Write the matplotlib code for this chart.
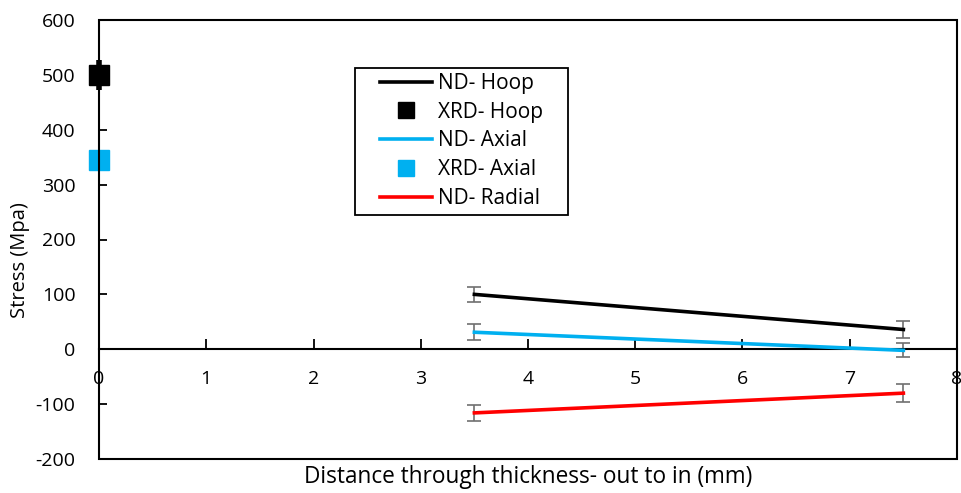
import matplotlib
matplotlib.use("Agg")
import matplotlib.pyplot as plt
from matplotlib.patches import Rectangle
from matplotlib.lines import Line2D

plt.rcParams['font.family'] = ['Open Sans', 'DejaVu Sans']
plt.rcParams['axes.unicode_minus'] = False

# Data
nd_x = [3.5, 7.5]
nd_hoop = [100, 36]
nd_hoop_err = [13, 15]
nd_axial = [31, -2]
nd_axial_err = [15, 13]
nd_radial = [-116, -80]
nd_radial_err = [14, 16]
xrd_x = [0]
xrd_hoop = [500]
xrd_hoop_err = [27]
xrd_axial = [345]

xticks = [0, 1, 2, 3, 4, 5, 6, 7, 8]
yticks = [-200, -100, 0, 100, 200, 300, 400, 500, 600]

W, H = 961, 493
fig = plt.figure(figsize=(W/100, H/100), dpi=100)
ax = fig.add_axes([99/W, 1 - 459/H, (957-99)/W, (459-20)/H])

black = '#000000'
blue = '#00B0F0'
red = '#FF0000'
grey = '#707070'

ax.plot(nd_x, nd_hoop, color=black, lw=2.6, zorder=3)
ax.errorbar(nd_x, nd_hoop, yerr=nd_hoop_err, fmt='none', ecolor=grey, elinewidth=1.2, capsize=5, capthick=1.2, zorder=2)
ax.errorbar(xrd_x, xrd_hoop, yerr=xrd_hoop_err, fmt='s', color=black, ms=14, ecolor=black, elinewidth=4, capsize=0, zorder=4, clip_on=False)
ax.plot(nd_x, nd_axial, color=blue, lw=2.6, zorder=3)
ax.errorbar(nd_x, nd_axial, yerr=nd_axial_err, fmt='none', ecolor=grey, elinewidth=1.2, capsize=5, capthick=1.2, zorder=2)
ax.plot(xrd_x, xrd_axial, 's', color=blue, ms=14, zorder=4, clip_on=False)
ax.plot(nd_x, nd_radial, color=red, lw=2.6, zorder=3)
ax.errorbar(nd_x, nd_radial, yerr=nd_radial_err, fmt='none', ecolor=grey, elinewidth=1.2, capsize=5, capthick=1.2, zorder=2)

ax.set_xlim(0, 8)
ax.set_ylim(-200, 600)
ax.set_xticks(xticks)
ax.set_yticks(yticks)

for s in ['top', 'right', 'left']:
    ax.spines[s].set_visible(False)
ax.spines['bottom'].set_position(('data', 0))
ax.spines['bottom'].set_linewidth(1.5)
ax.add_patch(Rectangle((0, 0), 1, 1, transform=ax.transAxes, fill=False,
                       edgecolor=black, lw=1.5, zorder=5, clip_on=False))

ax.tick_params(axis='x', direction='in', length=7, width=1.3, labelsize=14, pad=15)
ax.tick_params(axis='y', direction='in', length=6, width=1.3, labelsize=14, pad=17)

fig.text(20/W, 1 - 260/H, 'Stress (Mpa)', rotation=90, ha='center', va='center', fontsize=14.5)
fig.text((99+957)/2/W, 1 - 477/H, 'Distance through thickness- out to in (mm)',
         ha='center', va='center', fontsize=16.3)

labels = ['ND- Hoop', 'XRD- Hoop', 'ND- Axial', 'XRD- Axial', 'ND- Radial']
hs = [Line2D([], [], color=black, lw=2.6),
      Line2D([], [], color=black, marker='s', ls='none', ms=11),
      Line2D([], [], color=blue, lw=2.6),
      Line2D([], [], color=blue, marker='s', ls='none', ms=11),
      Line2D([], [], color=red, lw=2.6)]
leg = fig.legend(hs, labels, loc='upper left', bbox_to_anchor=(380/W, 1 - 73/H),
                 fontsize=15, frameon=False, handlelength=2.5,
                 handletextpad=0.3, labelspacing=0.37, borderpad=0, borderaxespad=0)
fig.add_artist(Rectangle((355/W, 1 - 215/H), (568-355)/W, (215-68)/H,
                         transform=fig.transFigure, fill=False, edgecolor=black,
                         lw=1.3, zorder=6))

fig.savefig('out.png', dpi=100)
